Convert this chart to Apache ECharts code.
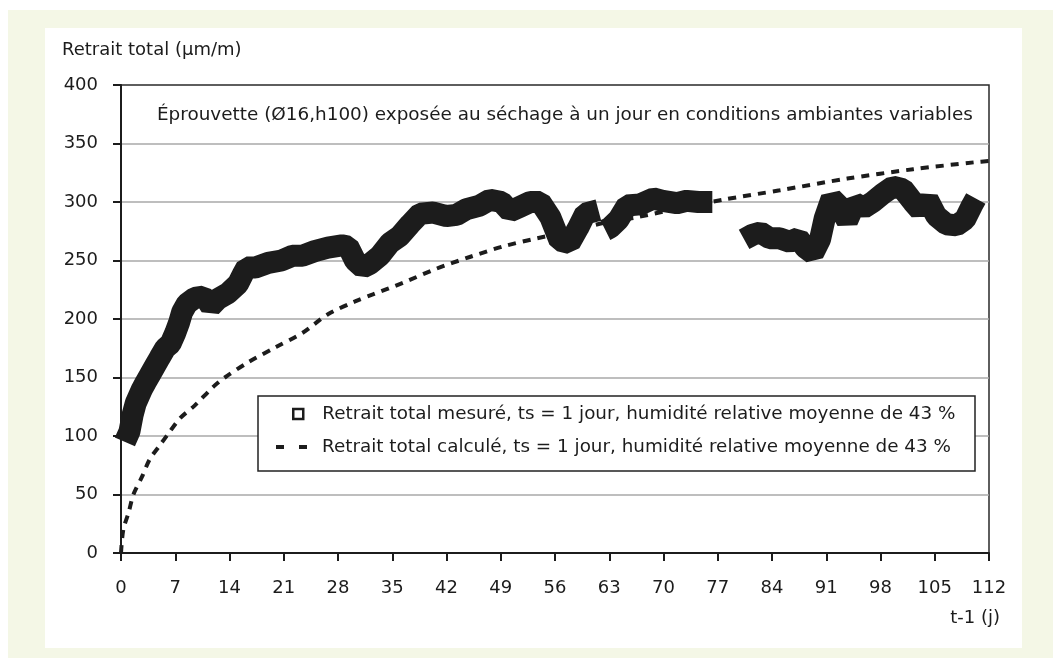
<!DOCTYPE html>
<html>
<head>
<meta charset="utf-8">
<script src="https://cdn.jsdelivr.net/npm/echarts@6/dist/echarts.min.js"></script>
<style>
  html, body { margin: 0; padding: 0; background: #ffffff; }
  #cream { position: absolute; left: 8px; top: 10px; width: 1045px; height: 648px; background: #f4f7e6; }
  #panel { position: absolute; left: 45px; top: 28px; width: 977px; height: 620px; background: #ffffff; }
  #chart { position: absolute; left: 0; top: 0; width: 1053px; height: 658px; }
</style>
</head>
<body>
<div id="cream"></div>
<div id="panel"></div>
<div id="chart"></div>
<script>
// ---- data ----
const measuredName = 'Retrait total mesuré, ts = 1 jour, humidité relative moyenne de 43 %';
const calculatedName = 'Retrait total calculé, ts = 1 jour, humidité relative moyenne de 43 %';
const noteText = 'Éprouvette (Ø16,h100) exposée au séchage à un jour en conditions ambiantes variables';
const yTitle = 'Retrait total (µm/m)';
const xTitle = 't-1 (j)';

// measured shrinkage (days, µm/m); null = no measurement
const measuredDays = [0.5, 1.1, 1.5, 1.9, 2.3, 2.7, 3.2, 3.8, 4.4, 5.0, 5.7, 6.4, 7.0, 7.5, 7.9, 8.5, 9.5, 10.6, 11.2, 11.6, 12.5,
  13.8, 15.1, 15.7, 16.2, 17.3, 19.0, 20.7, 22.1, 23.4, 25.0, 26.7, 28.5, 29.3, 30.2, 31.2, 32.1, 33.4, 34.7, 36.0, 37.3,
  38.6, 40.3, 42.0, 43.3, 44.6, 46.3, 47.6, 49.1, 50.2, 51.5, 52.8, 54.1, 55.4, 56.6, 57.9, 59.0, 59.9, 61.6,
  62.0,
  62.5, 63.1, 64.2, 65.3, 67.0, 68.7, 69.9, 71.7, 73.0, 74.5, 76.3,
  78.0,
  80.4, 81.5, 82.5, 83.7, 85.0, 86.3, 87.4, 88.3, 89.3, 90.2, 90.8, 91.7, 92.6, 93.7, 94.7, 95.8, 97.0, 98.3, 99.6,
  100.9, 102.2, 103.1, 104.1, 105.2, 106.5, 107.8, 108.9, 109.8, 110.3];
const measuredValues = [95, 104, 118, 128, 134, 140, 146, 153, 160, 167, 175, 179, 188, 197, 206, 213, 218, 219, 215, 211, 217,
  222, 230, 238, 244, 244, 248, 250, 254, 254, 258, 261, 263, 262, 250, 244, 247, 254, 265, 271, 281,
  290, 291, 288, 289, 294, 297, 302, 300, 292, 296, 300, 300, 287, 267, 265, 278, 290, 293,
  null,
  276, 278, 285, 297, 298, 303, 301, 299, 301, 300, 300,
  null,
  268, 272, 274, 269, 269, 266, 269, 261, 256, 268, 286, 303, 297, 284, 299, 295, 300, 307, 313,
  311, 300, 293, 302, 288, 281, 280, 285, 297, 303];

// calculated shrinkage (days, µm/m)
const calcDays = [0, 0.3, 1, 1.6, 2.7, 3.7, 5, 6, 7.6, 9.5, 11.9, 13.4, 16.4, 20, 23.4, 26.7, 30.2, 32.5, 36.4, 40.7,
  45, 49.3, 53.7, 57.9, 62.2, 66.6, 70.8, 77.7, 85, 93.7, 102.2, 110.2, 112];
const calcValues = [0, 20, 35, 50, 65, 80, 92, 101, 115, 126, 142, 150, 163, 176, 188, 204, 215, 221, 231, 243,
  253, 262, 269, 275, 282, 287, 293, 302, 310, 320, 328, 334, 335];

const xMin = 0, xMax = 112, xStep = 7;
const yMin = 0, yMax = 400, yStep = 50;

// ---- chart ----
const font = 'DejaVu Sans';
const ink = '#1c1c1c';
const chart = echarts.init(document.getElementById('chart'), null, { renderer: 'canvas' });

const option = {
  backgroundColor: 'transparent',
  animation: false,
  textStyle: { fontFamily: font, color: ink },
  grid: {
    left: 121, right: 64, top: 85, bottom: 105,
    show: true, borderColor: '#2a2a2a', borderWidth: 1.5, backgroundColor: 'transparent'
  },
  xAxis: {
    type: 'value', min: xMin, max: xMax, interval: xStep,
    axisLine: { show: true, onZero: false, lineStyle: { color: ink, width: 2 } },
    axisTick: { show: true, inside: false, length: 8, lineStyle: { color: ink, width: 2 } },
    axisLabel: { color: ink, fontFamily: font, fontSize: 18, margin: 26 },
    splitLine: { show: false }
  },
  yAxis: {
    type: 'value', min: yMin, max: yMax, interval: yStep,
    axisLine: { show: true, lineStyle: { color: ink, width: 2 } },
    axisTick: { show: true, inside: false, length: 8, lineStyle: { color: ink, width: 2 } },
    axisLabel: { color: ink, fontFamily: font, fontSize: 18, margin: 23, padding: [0, 0, 7, 0] },
    splitLine: { show: true, showMinLine: false, showMaxLine: false, lineStyle: { color: '#a8a8a8', width: 1.5 } }
  },
  legend: [
    {
      data: [measuredName], left: 292, top: 405, padding: 0, selectedMode: false,
      icon: 'rect', itemWidth: 10, itemHeight: 10,
      itemStyle: { color: '#ffffff', borderColor: ink, borderWidth: 2.5 },
      textStyle: { fontFamily: font, fontSize: 18.35, color: ink, padding: [0, 0, 0, 14] },
      z: 10
    },
    {
      data: [calculatedName], left: 276, top: 438, padding: 0, selectedMode: false,
      icon: 'path://M0,0h8v4h-8z M23,0h8v4h-8z', itemWidth: 31, itemHeight: 4,
      itemStyle: { color: ink, borderWidth: 0 },
      textStyle: { fontFamily: font, fontSize: 18.35, color: ink, padding: [0, 0, 0, 10] },
      z: 10
    }
  ],
  graphic: [
    { type: 'rect', shape: { x: 258, y: 396, width: 717, height: 75 }, style: { fill: '#ffffff', stroke: '#222222', lineWidth: 1.5 }, z: 5 },
    { type: 'text', left: 62, top: 41, style: { text: yTitle, font: '18px "DejaVu Sans"', fill: ink }, z: 5 },
    { type: 'text', right: 53, top: 609, style: { text: xTitle, font: '18px "DejaVu Sans"', fill: ink }, z: 5 },
    { type: 'text', left: 157, top: 106, style: { text: noteText, font: '18.4px "DejaVu Sans"', fill: ink }, z: 5 }
  ],
  series: [
    {
      name: measuredName, type: 'line',
      data: measuredDays.map((d, i) => [d, measuredValues[i]]),
      symbol: 'none', connectNulls: false,
      color: ink,
      lineStyle: { color: ink, width: 22, cap: 'butt', join: 'bevel' },
      z: 3
    },
    {
      name: calculatedName, type: 'line',
      data: calcDays.map((d, i) => [d, calcValues[i]]),
      symbol: 'none', smooth: 0.3,
      color: ink,
      lineStyle: { color: ink, width: 4, type: [8, 7] },
      z: 2
    }
  ]
};
chart.setOption(option);
</script>
</body>
</html>
